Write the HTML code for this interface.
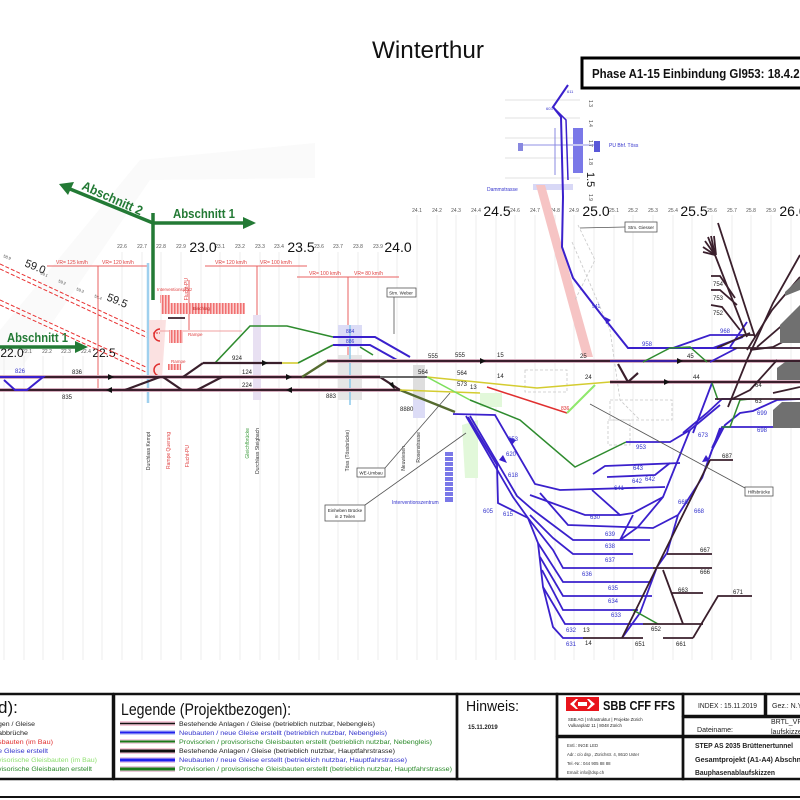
<!DOCTYPE html>
<html><head><meta charset="utf-8"><style>
html,body{margin:0;padding:0;background:#fff;}
svg{display:block;font-family:"Liberation Sans",sans-serif;}
</style></head><body>
<svg width="800" height="800" viewBox="0 0 800 800" xmlns="http://www.w3.org/2000/svg">
<defs>
<pattern id="hatch" width="3" height="3" patternUnits="userSpaceOnUse"><rect width="3" height="3" fill="#fbd0d0"/><rect width="1.5" height="3" fill="#f07070"/></pattern>
</defs>
<rect width="800" height="800" fill="#fff"/>
<!-- faint background bands -->
<polygon points="140,160 315,143 315,178 150,180 20,370 0,370 0,330" fill="#fafafa"/>
<!-- grid lines -->
<g stroke="#ededed" stroke-width="1">
<line x1="4" y1="356" x2="4" y2="660"/><line x1="24" y1="356" x2="24" y2="660"/><line x1="43" y1="356" x2="43" y2="660"/><line x1="63" y1="356" x2="63" y2="660"/><line x1="83" y1="356" x2="83" y2="660"/><line x1="102" y1="356" x2="102" y2="660"/>
<line x1="122" y1="252" x2="122" y2="660"/><line x1="142" y1="252" x2="142" y2="660"/><line x1="161" y1="252" x2="161" y2="660"/><line x1="181" y1="252" x2="181" y2="660"/><line x1="201" y1="252" x2="201" y2="660"/><line x1="220" y1="252" x2="220" y2="660"/><line x1="240" y1="252" x2="240" y2="660"/><line x1="260" y1="252" x2="260" y2="660"/><line x1="279" y1="252" x2="279" y2="660"/><line x1="299" y1="252" x2="299" y2="660"/><line x1="319" y1="252" x2="319" y2="660"/><line x1="338" y1="252" x2="338" y2="660"/><line x1="358" y1="252" x2="358" y2="660"/><line x1="378" y1="252" x2="378" y2="660"/><line x1="397" y1="252" x2="397" y2="660"/>
<line x1="417" y1="215" x2="417" y2="660"/><line x1="437" y1="215" x2="437" y2="660"/><line x1="456" y1="215" x2="456" y2="660"/><line x1="476" y1="215" x2="476" y2="660"/><line x1="496" y1="215" x2="496" y2="660"/><line x1="515" y1="215" x2="515" y2="660"/><line x1="535" y1="215" x2="535" y2="660"/><line x1="555" y1="215" x2="555" y2="660"/><line x1="574" y1="215" x2="574" y2="660"/><line x1="594" y1="215" x2="594" y2="660"/><line x1="614" y1="215" x2="614" y2="660"/><line x1="633" y1="215" x2="633" y2="660"/><line x1="653" y1="215" x2="653" y2="660"/><line x1="673" y1="215" x2="673" y2="660"/><line x1="692" y1="215" x2="692" y2="660"/><line x1="712" y1="215" x2="712" y2="660"/><line x1="732" y1="215" x2="732" y2="660"/><line x1="751" y1="215" x2="751" y2="660"/><line x1="771" y1="215" x2="771" y2="660"/><line x1="791" y1="215" x2="791" y2="660"/>
</g>
<!-- km labels -->
<g font-size="5" fill="#555" text-anchor="middle">
<text x="122" y="248">22.6</text><text x="142" y="248">22.7</text><text x="161" y="248">22.8</text><text x="181" y="248">22.9</text><text x="220" y="248">23.1</text><text x="240" y="248">23.2</text><text x="260" y="248">23.3</text><text x="279" y="248">23.4</text><text x="319" y="248">23.6</text><text x="338" y="248">23.7</text><text x="358" y="248">23.8</text><text x="378" y="248">23.9</text>
<text x="417" y="212">24.1</text><text x="437" y="212">24.2</text><text x="456" y="212">24.3</text><text x="476" y="212">24.4</text><text x="515" y="212">24.6</text><text x="535" y="212">24.7</text><text x="555" y="212">24.8</text><text x="574" y="212">24.9</text><text x="614" y="212">25.1</text><text x="633" y="212">25.2</text><text x="653" y="212">25.3</text><text x="673" y="212">25.4</text><text x="712" y="212">25.6</text><text x="732" y="212">25.7</text><text x="751" y="212">25.8</text><text x="771" y="212">25.9</text>
<text x="27" y="353">22.1</text><text x="47" y="353">22.2</text><text x="66" y="353">22.3</text><text x="86" y="353">22.4</text>
</g>
<g font-size="14" fill="#111" text-anchor="middle">
<text x="203" y="252">23.0</text><text x="301" y="252">23.5</text><text x="398" y="252">24.0</text>
<text x="497" y="216">24.5</text><text x="596" y="216">25.0</text><text x="694" y="216">25.5</text><text x="793" y="216">26.0</text>
<text x="12" y="357" font-size="12">22.0</text><text x="104" y="357" font-size="12">22.5</text>
</g>
<!-- Title -->
<text x="428" y="58" font-size="24" text-anchor="middle" fill="#111" textLength="112" lengthAdjust="spacingAndGlyphs">Winterthur</text>
<rect x="582" y="58" width="222" height="30" fill="#fff" stroke="#000" stroke-width="3"/>
<text x="592" y="78" font-size="12.5" font-weight="bold" fill="#111" textLength="214" lengthAdjust="spacingAndGlyphs">Phase A1-15 Einbindung Gl953: 18.4.20</text>

<!-- top structure near Töss -->
<g stroke="#e2e2e2" stroke-width="1"><line x1="505" y1="100" x2="580" y2="100"/><line x1="505" y1="118" x2="580" y2="118"/><line x1="505" y1="138" x2="580" y2="138"/><line x1="505" y1="158" x2="580" y2="158"/><line x1="505" y1="178" x2="580" y2="178"/></g>
<rect x="573" y="128" width="10" height="45" fill="#7a78e8"/>
<line x1="518" y1="145" x2="598" y2="145" stroke="#c8c8f2" stroke-width="2"/>
<line x1="555" y1="128" x2="555" y2="175" stroke="#8a88e0" stroke-width="1"/>
<rect x="518" y="143" width="5" height="8" fill="#8888e0"/><rect x="594" y="141" width="6" height="11" fill="#5a58d8"/>
<text x="609" y="147" font-size="5" fill="#3333cc">PU Bhf. Töss</text>
<g font-size="5" fill="#444"><text transform="translate(589,100) rotate(90)">1.3</text><text transform="translate(589,120) rotate(90)">1.4</text><text transform="translate(589,140) rotate(90)">1.7</text><text transform="translate(589,158) rotate(90)">1.8</text><text transform="translate(589,194) rotate(90)">1.9</text></g>
<text transform="translate(587,172) rotate(90)" font-size="11" fill="#111">1.5</text>
<rect x="533" y="184" width="40" height="6" fill="#d8d8f6"/>
<text x="487" y="191" font-size="5" fill="#3333cc">Dammstrasse</text>
<polygon points="536,185 545,185 593,357 583,357" fill="#f6c4c4"/>
<!-- dashed gray -->
<g stroke="#c8c8c8" stroke-width="0.8" stroke-dasharray="3,2" fill="none">
<polyline points="578,225 595,260 575,300"/><polyline points="572,242 610,330 620,400 640,420"/>
<rect x="525" y="370" width="42" height="22"/><rect x="610" y="400" width="62" height="20"/><rect x="608" y="420" width="22" height="25"/>
</g>
<!-- blue top track -->
<g fill="none" stroke="#3a20cc" stroke-width="2">
<polyline points="568,85 553,107 561,117 563,197 562,247 573,278 600,313 628,348 733,348"/>
<polyline points="553,107 566,120 568,180" stroke-width="1.5"/>
</g>
<polygon points="605,317 611,320 606,324" fill="#3a20cc"/>
<text x="567" y="93" font-size="4" fill="#3333cc">611</text><text x="546" y="110" font-size="4" fill="#3333cc">603</text><text x="592" y="308" font-size="5" fill="#3333cc">941</text>

<!-- Abschnitt arrows -->
<g stroke="#237a35" stroke-width="3.5" fill="none">
<line x1="153" y1="213" x2="153" y2="300"/>
<line x1="153" y1="223" x2="245" y2="223"/>
<line x1="153" y1="223" x2="70" y2="189"/>
<line x1="0" y1="347" x2="78" y2="347"/>
</g>
<polygon points="256,223 243,217 243,229" fill="#237a35"/>
<polygon points="59,184 74,182 68,195" fill="#237a35"/>
<polygon points="88,347 75,341 75,353" fill="#237a35"/>
<text x="173" y="218" font-size="13" font-weight="bold" fill="#237a35" textLength="62" lengthAdjust="spacingAndGlyphs">Abschnitt 1</text>
<text x="7" y="342" font-size="13" font-weight="bold" fill="#237a35" textLength="61" lengthAdjust="spacingAndGlyphs">Abschnitt 1</text>
<text transform="translate(81,189) rotate(24)" font-size="13" font-weight="bold" fill="#237a35" textLength="65" lengthAdjust="spacingAndGlyphs">Abschnitt 2</text>

<!-- red dashed diagonals -->
<g stroke="#e83030" stroke-width="1" stroke-dasharray="4,2" fill="none">
<line x1="0" y1="264" x2="148" y2="333"/><line x1="0" y1="269" x2="148" y2="338"/>
<line x1="0" y1="300" x2="148" y2="368"/><line x1="0" y1="305" x2="148" y2="373"/>
</g>
<g font-size="4" fill="#444"><text transform="translate(3,257) rotate(22)">58.9</text><text transform="translate(40,274) rotate(22)">59.1</text><text transform="translate(58,282) rotate(22)">59.2</text><text transform="translate(76,290) rotate(22)">59.3</text><text transform="translate(94,297) rotate(22)">59.4</text></g>
<text transform="translate(24,266) rotate(22)" font-size="11" fill="#222">59.0</text>
<text transform="translate(106,300) rotate(22)" font-size="11" fill="#222">59.5</text>

<!-- VR speed lines -->
<g stroke="#e86060" stroke-width="1" fill="none">
<line x1="47" y1="266" x2="148" y2="266"/><line x1="98" y1="266" x2="98" y2="390"/>
<line x1="205" y1="266" x2="307" y2="266"/><line x1="257" y1="266" x2="257" y2="392"/>
<line x1="297" y1="277" x2="399" y2="277"/><line x1="348" y1="277" x2="348" y2="390"/>
<line x1="189" y1="280" x2="189" y2="330"/>
</g>
<g font-size="5" fill="#e04040">
<text x="56" y="264">VR= 125 km/h</text><text x="102" y="264">VR= 120 km/h</text>
<text x="215" y="264">VR= 120 km/h</text><text x="260" y="264">VR= 100 km/h</text>
<text x="309" y="275">VR= 100 km/h</text><text x="354" y="275">VR= 80 km/h</text>
<text transform="translate(188,278) rotate(-90)" text-anchor="end">Flucht-PU</text>
</g>

<!-- structures left -->
<line x1="148" y1="263" x2="148" y2="403" stroke="#9fd0ee" stroke-width="2.5"/>
<polygon points="149,320 166,320 162,378 150,378" fill="#fadada" opacity="0.8"/>
<rect x="253" y="315" width="8" height="85" fill="#e8e0f2"/>
<rect x="338" y="355" width="24" height="45" fill="#e6e6e6"/>
<rect x="338" y="325" width="24" height="22" fill="#dcdcf6"/>
<line x1="350" y1="325" x2="350" y2="405" stroke="#8ac8ea" stroke-width="1.5"/>
<text x="157" y="291" font-size="4.5" fill="#e04040">Interventionsplatz</text>
<rect x="160" y="295" width="10" height="8" fill="url(#hatch)"/>
<rect x="161" y="303" width="84" height="11" fill="url(#hatch)"/>
<text x="193" y="310" font-size="4.5" fill="#c02020">Bischlag</text>
<line x1="160" y1="331" x2="242" y2="331" stroke="#f0a0a0" stroke-width="1"/>
<rect x="169" y="330" width="14" height="13" fill="url(#hatch)"/>
<text x="188" y="336" font-size="4.5" fill="#e04040">Rampe</text>
<rect x="168" y="364" width="13" height="6" fill="url(#hatch)"/>
<text x="171" y="363" font-size="4.5" fill="#e04040">Rampe</text>
<path d="M160,329 A6,6 0 0 0 160,341" stroke="#e03030" stroke-width="1.5" fill="none"/>
<path d="M160,364 A6,6 0 0 0 160,376" stroke="#e03030" stroke-width="1.5" fill="none"/>
<line x1="153" y1="333" x2="160" y2="333" stroke="#e03030" stroke-dasharray="2,1"/>

<!-- green / yellow left -->
<g fill="none" stroke-width="1.6">
<polyline points="215,363 250,326 287,326 333,337" stroke="#2e8b2e"/>
<polyline points="298,363 333,345" stroke="#2e8b2e"/>
<polyline points="282,363 298,363" stroke="#d4cc30"/>
<polyline points="360,347 373,355" stroke="#2e8b2e"/>
<polyline points="333,337 375,337 410,357" stroke="#3a20cc" stroke-width="2"/>
<polyline points="333,345 370,345 397,360" stroke="#3a20cc" stroke-width="2"/>
</g>
<text x="346" y="333" font-size="5" fill="#3333cc">884</text><text x="346" y="343" font-size="5" fill="#3333cc">886</text>

<!-- 564 block -->
<rect x="413" y="365" width="12" height="35" fill="#dedede"/>
<rect x="413" y="400" width="12" height="18" fill="#dcdcf6"/>

<!-- main dark tracks -->
<g fill="none" stroke-linecap="butt">
<g stroke="#ecc4d4" stroke-width="4">
<line x1="0" y1="377" x2="380" y2="377"/><line x1="0" y1="390" x2="400" y2="390"/>
<line x1="327" y1="361" x2="800" y2="361"/><line x1="610" y1="382" x2="800" y2="382"/>
</g>
<g stroke="#3a1f2c" stroke-width="2.2">
<line x1="0" y1="377" x2="380" y2="377"/><line x1="0" y1="390" x2="400" y2="390"/>
<line x1="327" y1="361" x2="800" y2="361"/><line x1="610" y1="382" x2="800" y2="382"/>
<line x1="203" y1="363" x2="282" y2="363"/>
<line x1="160" y1="377" x2="125" y2="390"/><line x1="163" y1="377" x2="182" y2="390"/>
<line x1="222" y1="377" x2="197" y2="390"/><line x1="183" y1="377" x2="203" y2="363"/>
<line x1="380" y1="377" x2="400" y2="390"/>
<line x1="618" y1="364" x2="628" y2="382"/><line x1="628" y1="382" x2="638" y2="373"/>
</g>
<line x1="380" y1="377" x2="427" y2="377" stroke="#666" stroke-width="2"/>
<line x1="302" y1="377" x2="327" y2="361" stroke="#556b2f" stroke-width="2.4"/>
<polyline points="400,390 455,412" stroke="#556b2f" stroke-width="2.4"/>
<polyline points="427,377 537,388 610,382" stroke="#d4cc30" stroke-width="1.5"/>
<polyline points="400,390 480,393" stroke="#d4cc30" stroke-width="1.5"/>
<polyline points="427,377 470,400" stroke="#7ddf5c" stroke-width="1.5"/>
<polyline points="487,387 567,413" stroke="#e03030" stroke-width="1.5"/>
<polyline points="567,413 595,385" stroke="#8fe86c" stroke-width="2"/>
<polyline points="610,361 680,361" stroke="#3a20cc" stroke-width="1.5"/>
</g>
<rect x="480" y="393" width="22" height="14" fill="#e2f8da"/>
<polygon points="462,425 478,420 478,478 465,478" fill="#e2f8da"/>
<!-- arrows -->
<g fill="#111">
<polygon points="114,377 108,374 108,380"/><polygon points="292,377 286,374 286,380"/><polygon points="268,363 262,360 262,366"/>
<polygon points="106,390 112,387 112,393"/><polygon points="286,390 292,387 292,393"/>
<polygon points="486,361 480,358 480,364"/><polygon points="683,361 677,358 677,364"/><polygon points="670,382 664,379 664,385"/>
<polygon points="395,390 389,384 393,382"/>
</g>
<!-- blue 826 left -->
<polyline points="0,377 43,377 27,390 15,390 4,380" fill="none" stroke="#3a20cc" stroke-width="2"/>

<!-- V yard blue -->
<g fill="none" stroke="#3a20cc" stroke-width="1.8">
<polyline points="453,414 495,415 535,484 560,490 665,487"/>
<polyline points="466,416 513,497 528,518 538,543 543,587 553,627 563,638 583,638"/>
<polyline points="470,416 517,496 533,510 573,540 650,540"/>
<polyline points="468,417 497,465 498,503 528,518"/>
<polyline points="540,493 568,525 653,528 678,515"/>
<polyline points="530,515 553,538 573,554 633,554"/>
<polyline points="528,518 553,550 563,568 653,568"/>
<polyline points="538,543 563,582 652,582"/>
<polyline points="540,557 563,596 652,596"/>
<polyline points="542,570 563,610 638,610"/>
<polyline points="543,587 565,624 643,624"/>
<polyline points="592,490 620,515 633,513 663,497"/>
<polyline points="530,495 585,515 620,515"/>
<polyline points="620,540 633,515"/>
<polyline points="593,474 605,466 680,463"/>
<polyline points="607,477 655,475 670,463"/>
<polyline points="626,442 670,442 690,430 720,405"/>
<polyline points="720,428 702,478 678,515 667,553 657,567 640,613 622,638"/>
<polyline points="690,430 663,497 638,527 620,540"/>
<polyline points="683,433 707,413 722,399 735,399"/>
<polyline points="693,433 712,383"/>
<polyline points="702,478 712,450 725,425 740,413 753,411 777,400 800,399"/>
<polyline points="712,448 722,427 773,427"/>
<polyline points="673,348 710,335 743,335"/>
<polyline points="710,362 737,348"/>
<polyline points="713,348 743,337"/>
<polyline points="730,347 747,322"/>
</g>
<g fill="#3a20cc"><polygon points="512,445 508,437 516,440"/><polygon points="503,455 507,463 499,460"/><polygon points="706,455 702,462 710,461"/></g>
<!-- green yard -->
<g fill="none" stroke="#2e8b2e" stroke-width="1.5">
<polyline points="470,400 520,420 575,467 626,442"/>
<polyline points="633,610 658,624"/>
<polyline points="643,362 670,348 690,347 707,362"/>
<polyline points="722,427 730,427 740,400 750,399"/>
<polyline points="712,383 718,400"/>
</g>
<!-- dark tracks in yard/right -->
<g fill="none" stroke="#3a1f2c" stroke-width="1.8">
<line x1="643" y1="624" x2="703" y2="624"/><line x1="583" y1="638" x2="643" y2="638"/>
<line x1="653" y1="568" x2="712" y2="568"/><line x1="667" y1="554" x2="712" y2="554"/>
<polyline points="710,460 733,460"/><polyline points="710,460 657,567 622,638"/>
<polyline points="663,570 683,624"/><polyline points="672,593 703,593"/>
<polyline points="693,638 718,596 752,596"/><polyline points="663,638 693,638"/>
<polyline points="733,348 800,348"/><polyline points="715,399 800,399"/>
<polyline points="800,255 773,303 747,360 728,407"/>
<polyline points="800,277 772,310 747,350"/>
<polyline points="800,310 757,347"/>
<polyline points="800,333 773,347 750,350"/>
<polyline points="777,360 750,390 730,400"/>
<polyline points="800,387 773,393"/>
<polyline points="718,223 755,337"/>
<polyline points="715,255 747,337"/>
<polyline points="711,276 720,276 735,298"/>
<polyline points="711,290 720,290 737,305"/>
<polyline points="711,305 722,307 740,330"/>
<polyline points="743,335 755,335"/>
<polyline points="717,348 750,333"/>
<polyline points="703,247 715,255"/><polyline points="705,241 715,255"/><polyline points="708,237 715,255"/><polyline points="711,236 715,255"/><polyline points="714,236 716,255"/><polyline points="703,252 715,255"/>
<polyline points="168,318 185,318" />
</g>
<!-- gray buildings right -->
<g fill="#707070">
<polygon points="785,292 800,278 800,290 785,296"/>
<polygon points="780,325 800,305 800,343 780,343"/>
<polygon points="777,368 785,362 800,362 800,380 777,380"/>
<polygon points="773,410 782,402 800,402 800,428 773,428"/>
</g>

<!-- track labels -->
<g font-size="6" fill="#222">
<text x="72" y="374">836</text><text x="62" y="399">835</text><text x="242" y="374">124</text><text x="242" y="387">224</text><text x="232" y="360">924</text><text x="326" y="398">883</text>
<text x="428" y="358">555</text><text x="455" y="357">555</text><text x="418" y="374">564</text><text x="457" y="375">564</text><text x="457" y="386">573</text><text x="470" y="389">13</text><text x="497" y="378">14</text><text x="497" y="357">15</text><text x="580" y="358">25</text><text x="585" y="379">24</text><text x="687" y="358">45</text><text x="693" y="379">44</text><text x="400" y="411">8880</text>
<text x="700" y="552">667</text><text x="700" y="574">666</text><text x="678" y="592">663</text><text x="733" y="594">671</text><text x="676" y="646">661</text><text x="635" y="646">651</text><text x="651" y="631">652</text><text x="583" y="632">13</text><text x="585" y="645">14</text><text x="722" y="458">687</text>
<text x="755" y="387">64</text><text x="755" y="403">63</text><text x="713" y="286">754</text><text x="713" y="300">753</text><text x="713" y="315">752</text>
</g>
<g font-size="6" fill="#3333cc">
<text x="15" y="373">826</text><text x="642" y="346">958</text><text x="720" y="333">968</text><text x="636" y="449">953</text><text x="633" y="470">643</text><text x="632" y="483">642</text><text x="645" y="481">642</text><text x="614" y="490">641</text><text x="590" y="519">630</text><text x="605" y="536">639</text><text x="605" y="548">638</text><text x="605" y="562">637</text><text x="582" y="576">636</text><text x="608" y="590">635</text><text x="608" y="603">634</text><text x="611" y="617">633</text><text x="566" y="632">632</text><text x="566" y="646">631</text><text x="483" y="513">605</text><text x="503" y="516">615</text><text x="508" y="477">618</text><text x="506" y="456">620</text><text x="508" y="441">653</text><text x="678" y="504">669</text><text x="694" y="513">668</text><text x="757" y="415">699</text><text x="757" y="432">698</text><text x="698" y="437">673</text>
</g>
<text x="561" y="410" font-size="5" fill="#e03030">836</text>

<!-- vertical location labels -->
<g font-size="5" text-anchor="end">
<text transform="translate(150,432) rotate(-90)" fill="#333">Durchlass Kempt</text>
<text transform="translate(170,432) rotate(-90)" fill="#e04040">Rampe Querung</text>
<text transform="translate(189,445) rotate(-90)" fill="#e04040">Flucht-PU</text>
<text transform="translate(249,428) rotate(-90)" fill="#3a9a3a">Gleichfbrücke</text>
<text transform="translate(259,428) rotate(-90)" fill="#333">Durchlass Steigbach</text>
<text transform="translate(349,430) rotate(-90)" fill="#333">Töss (Tössbrücke)</text>
<text transform="translate(405,446) rotate(-90)" fill="#333">Neuwiesen</text>
<text transform="translate(420,432) rotate(-90)" fill="#333">Rosenstrasse</text>
</g>
<!-- interventionszentrum -->
<g fill="#7a78e8"><rect x="445" y="452" width="8" height="4"/><rect x="445" y="457" width="8" height="4"/><rect x="445" y="462" width="8" height="4"/><rect x="445" y="467" width="8" height="4"/><rect x="445" y="472" width="8" height="4"/><rect x="445" y="477" width="8" height="4"/><rect x="445" y="482" width="8" height="4"/><rect x="445" y="487" width="8" height="4"/><rect x="445" y="492" width="8" height="4"/><rect x="445" y="497" width="8" height="5"/></g>
<text x="392" y="504" font-size="5" fill="#3333cc">Interventionszentrum</text>

<!-- callouts -->
<g stroke="#555" stroke-width="0.8" fill="none">
<line x1="394" y1="297" x2="394" y2="334"/>
<line x1="625" y1="227" x2="580" y2="228"/>
<line x1="385" y1="468" x2="450" y2="393"/>
<line x1="365" y1="505" x2="466" y2="433"/>
<line x1="745" y1="488" x2="590" y2="404"/>
</g>
<g fill="#fff" stroke="#555" stroke-width="0.8">
<rect x="387" y="288" width="29" height="9"/><rect x="625" y="222" width="32" height="10"/>
<rect x="357" y="468" width="28" height="9"/><rect x="325" y="505" width="40" height="16"/><rect x="745" y="487" width="28" height="9"/>
</g>
<g font-size="4.5" fill="#222" text-anchor="middle">
<text x="401" y="294.5">Stm. Weber</text><text x="641" y="229">Stm. Giesser</text><text x="371" y="474.5">WE-Umbau</text>
<text x="345" y="512">Einheben Brücke</text><text x="345" y="518">in 2 Teilen</text><text x="759" y="493.5">Hilfsbrücke</text>
</g>

<!-- LEGEND AREA -->
<g fill="none" stroke="#111" stroke-width="2.5">
<rect x="-5" y="694" width="118" height="85"/>
<rect x="114" y="694" width="343" height="85"/>
<rect x="457" y="694" width="100" height="85"/>
<rect x="557" y="694" width="126" height="42"/>
<rect x="557" y="737" width="126" height="42"/>
<rect x="683" y="694" width="82" height="22"/>
<rect x="766" y="694" width="40" height="22"/>
<rect x="683" y="717" width="122" height="19"/>
<rect x="683" y="737" width="122" height="42"/>
</g>
<line x1="0" y1="797" x2="800" y2="797" stroke="#111" stroke-width="2"/>
<text x="-2" y="713" font-size="17" fill="#111">d):</text>
<g font-size="6.5">
<text x="-2" y="726" fill="#222" textLength="37" lengthAdjust="spacingAndGlyphs">gen / Gleise</text>
<text x="-2" y="735" fill="#222" textLength="30" lengthAdjust="spacingAndGlyphs">abbrüche</text>
<text x="-2" y="744" fill="#e03030" textLength="55" lengthAdjust="spacingAndGlyphs">sbauten (im Bau)</text>
<text x="-2" y="753" fill="#3333cc" textLength="50" lengthAdjust="spacingAndGlyphs">e Gleise erstellt</text>
<text x="-2" y="762" fill="#8fe070" textLength="99" lengthAdjust="spacingAndGlyphs">visorische Gleisbauten (im Bau)</text>
<text x="-2" y="771" fill="#2a8a2a" textLength="94" lengthAdjust="spacingAndGlyphs">visorische Gleisbauten erstellt</text>
</g>
<text x="121" y="715" font-size="16.5" fill="#111" textLength="170" lengthAdjust="spacingAndGlyphs">Legende (Projektbezogen):</text>
<g>
<rect x="120" y="721" width="55" height="5" fill="#f6c8d8"/><line x1="120" y1="723.5" x2="175" y2="723.5" stroke="#111" stroke-width="1.6"/>
<rect x="120" y="730" width="55" height="5" fill="#c8d0f6"/><line x1="120" y1="732.5" x2="175" y2="732.5" stroke="#2020ee" stroke-width="2"/>
<rect x="120" y="739" width="55" height="5" fill="#f0d0e0"/><line x1="120" y1="741.5" x2="175" y2="741.5" stroke="#1a7a1a" stroke-width="2"/>
<rect x="120" y="748" width="55" height="6" fill="#f6c8d8"/><line x1="120" y1="751" x2="175" y2="751" stroke="#111" stroke-width="3"/>
<rect x="120" y="757" width="55" height="6" fill="#e8c8e8"/><line x1="120" y1="760" x2="175" y2="760" stroke="#2020ee" stroke-width="3"/>
<rect x="120" y="766" width="55" height="6" fill="#e8c8d8"/><line x1="120" y1="769" x2="175" y2="769" stroke="#1a7a1a" stroke-width="3"/>
</g>
<g font-size="6.3">
<text x="179" y="726" fill="#222" textLength="196" lengthAdjust="spacingAndGlyphs">Bestehende Anlagen / Gleise (betrieblich nutzbar, Nebengleis)</text>
<text x="179" y="735" fill="#3333cc" textLength="208" lengthAdjust="spacingAndGlyphs">Neubauten / neue Gleise erstellt (betrieblich nutzbar, Nebengleis)</text>
<text x="179" y="744" fill="#2a8a2a" textLength="253" lengthAdjust="spacingAndGlyphs">Provisorien / provisorische Gleisbauten erstellt (betrieblich nutzbar, Nebengleis)</text>
<text x="179" y="753" fill="#222" textLength="216" lengthAdjust="spacingAndGlyphs">Bestehende Anlagen / Gleise (betrieblich nutzbar, Hauptfahrstrasse)</text>
<text x="179" y="762" fill="#3333cc" textLength="228" lengthAdjust="spacingAndGlyphs">Neubauten / neue Gleise erstellt (betrieblich nutzbar, Hauptfahrstrasse)</text>
<text x="179" y="771" fill="#2a8a2a" textLength="273" lengthAdjust="spacingAndGlyphs">Provisorien / provisorische Gleisbauten erstellt (betrieblich nutzbar, Hauptfahrstrasse)</text>
</g>
<text x="466" y="711" font-size="15" fill="#111" textLength="53" lengthAdjust="spacingAndGlyphs">Hinweis:</text>
<text x="468" y="729" font-size="6" font-weight="bold" fill="#222">15.11.2019</text>
<rect x="566" y="697" width="33" height="14" fill="#e8141c"/>
<g fill="#fff"><rect x="578" y="702" width="9" height="4"/><polygon points="570,704 576,699 578,699 574,704 578,709 576,709"/><polygon points="595,704 589,699 587,699 591,704 587,709 589,709"/></g>
<text x="603" y="710" font-size="12.5" font-weight="bold" fill="#111" textLength="72" lengthAdjust="spacingAndGlyphs">SBB CFF FFS</text>
<text x="568" y="721" font-size="4.3" fill="#222">SBB AG | Infrastruktur | Projekte Zürich</text>
<text x="568" y="727" font-size="4.3" fill="#222">Vulkanplatz 11 | 8048 Zürich</text>
<g font-size="4.3" fill="#333">
<text x="567" y="747">Entl.: INGE LED</text><text x="567" y="756">Adr.: c/o dsp , Zürichstr. 4, 8610 Uster</text><text x="567" y="765">Tel.-Nr.: 044 905 88 88</text><text x="567" y="774">Email: info@dsp.ch</text>
</g>
<text x="698" y="708" font-size="7" fill="#222" textLength="59" lengthAdjust="spacingAndGlyphs">INDEX : 15.11.2019</text>
<text x="772" y="708" font-size="7" fill="#222">Gez.: N.Y</text>
<text x="697" y="732" font-size="7" fill="#222" textLength="36" lengthAdjust="spacingAndGlyphs">Dateiname:</text>
<text x="771" y="724" font-size="7" fill="#222">BRTL_VP_</text>
<text x="771" y="734" font-size="7" fill="#222">laufskizze</text>
<g font-size="7" font-weight="bold" fill="#222">
<text x="695" y="748" textLength="98" lengthAdjust="spacingAndGlyphs">STEP AS 2035 Brüttenertunnel</text>
<text x="695" y="762" textLength="108" lengthAdjust="spacingAndGlyphs">Gesamtprojekt (A1-A4)  Abschni</text>
<text x="695" y="775" textLength="80" lengthAdjust="spacingAndGlyphs">Bauphasenablaufskizzen</text>
</g>
</svg>
</body></html>
